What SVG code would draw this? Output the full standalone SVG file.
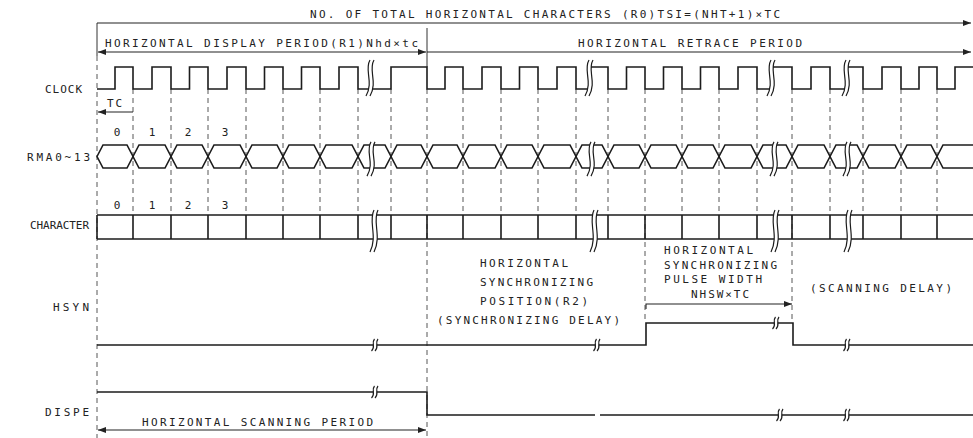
<svg xmlns="http://www.w3.org/2000/svg" xmlns:xlink="http://www.w3.org/1999/xlink" width="973" height="438" viewBox="0 0 973 438">
<style>
.t{font-family:"DejaVu Sans Mono","Liberation Mono",monospace;font-size:11px;fill:#222}
.sig{fill:none;stroke:#1c1c1c;stroke-width:1.6;stroke-linejoin:miter}
.dash{fill:none;stroke:#444;stroke-width:0.9;stroke-dasharray:5 4}
.solid{fill:none;stroke:#333;stroke-width:1}
.arr{fill:none;stroke:#222;stroke-width:1.1}
.bk{fill:none;stroke:#1c1c1c;stroke-width:1.2;vector-effect:non-scaling-stroke}
.bw{fill:#fff;stroke:none}
</style>
<defs>
<marker id="ah" markerWidth="9" markerHeight="6" refX="8" refY="3" orient="auto-start-reverse" markerUnits="userSpaceOnUse">
<path d="M0,0 L8,3 L0,6 z" fill="#222"/>
</marker>
<g id="brk">
<path class="bw" d="M1,-18 C-5,-8 5,4 -3,18 L1,18 C9,4 -1,-8 5,-18 Z"/>
<path class="bk" d="M1,-18 C-5,-8 5,4 -3,18"/>
<path class="bk" d="M5,-18 C-1,-8 9,4 1,18"/>
</g>
<g id="brks">
<path class="bw" d="M1.5,-6 C-2,-2 3,2 -1.5,6 L2,6 C6.5,2 1.5,-2 5,-6 Z"/>
<path class="bk" d="M1.5,-6 C-2,-2 3,2 -1.5,6"/>
<path class="bk" d="M5,-6 C1.5,-2 6.5,2 2,6"/>
</g>
</defs>
<rect width="973" height="438" fill="#fff"/>

<g id="guides">
<path class="solid" d="M97,23 V56 M427,28 V67"/>
<path class="dash" d="M97,56 V438 M427,89 V438 M645,89 V323 M792,89 V323"/>
<path class="dash" d="M133,89 V215 M171,89 V215 M208,89 V215 M246,89 V215 M283,89 V215 M320,89 V215 M358,89 V215 M391,89 V215 M463,89 V215 M501,89 V215 M538,89 V215 M576,89 V215 M608,89 V215 M682,89 V215 M719,89 V215 M757,89 V215 M830,89 V215 M863,89 V215 M901,89 V215 M937,89 V215"/>
</g>

<g id="dimensions">
<path class="arr" d="M97,23 H971" marker-end="url(#ah)"/>
<path class="arr" d="M98,52 H426" marker-start="url(#ah)" marker-end="url(#ah)"/>
<path class="arr" d="M427,52 H971" marker-end="url(#ah)"/>
<path class="arr" d="M98,112 H133" marker-start="url(#ah)"/>
<path class="arr" d="M646,309 V304 H792" marker-end="url(#ah)"/>
<path class="arr" d="M98,430 H426" marker-start="url(#ah)" marker-end="url(#ah)"/>
</g>

<g id="labels">
<text class="t" x="310" y="18" textLength="470" lengthAdjust="spacing">NO. OF TOTAL HORIZONTAL CHARACTERS (R0)TSI=(NHT+1)×TC</text>
<text class="t" x="105" y="47" textLength="313" lengthAdjust="spacing">HORIZONTAL DISPLAY PERIOD(R1)Nhd×tc</text>
<text class="t" x="578" y="47" textLength="224" lengthAdjust="spacing">HORIZONTAL RETRACE PERIOD</text>
<text class="t" x="45" y="93" textLength="37" lengthAdjust="spacing">CLOCK</text>
<text class="t" x="107" y="107" textLength="15" lengthAdjust="spacing">TC</text>
<text class="t" x="27" y="161" textLength="63" lengthAdjust="spacing">RMA0~13</text>
<text class="t" x="30" y="229" textLength="59" lengthAdjust="spacing">CHARACTER</text>
<text class="t" x="53" y="311" textLength="36" lengthAdjust="spacing">HSYN</text>
<text class="t" x="45" y="416" textLength="44" lengthAdjust="spacing">DISPE</text>
<g text-anchor="middle">
<text class="t" x="117" y="136">0</text><text class="t" x="152" y="136">1</text><text class="t" x="188" y="136">2</text><text class="t" x="225" y="136">3</text>
<text class="t" x="117" y="209">0</text><text class="t" x="152" y="209">1</text><text class="t" x="188" y="209">2</text><text class="t" x="225" y="209">3</text>
</g>
<text class="t" x="480" y="267" textLength="88" lengthAdjust="spacing">HORIZONTAL</text>
<text class="t" x="480" y="286" textLength="113" lengthAdjust="spacing">SYNCHRONIZING</text>
<text class="t" x="480" y="305" textLength="108" lengthAdjust="spacing">POSITION(R2)</text>
<text class="t" x="437" y="324" textLength="183" lengthAdjust="spacing">(SYNCHRONIZING DELAY)</text>
<text class="t" x="664" y="254" textLength="89" lengthAdjust="spacing">HORIZONTAL</text>
<text class="t" x="664" y="269" textLength="113" lengthAdjust="spacing">SYNCHRONIZING</text>
<text class="t" x="664" y="283" textLength="98" lengthAdjust="spacing">PULSE WIDTH</text>
<text class="t" x="691" y="298" textLength="58" lengthAdjust="spacing">NHSW×TC</text>
<text class="t" x="810" y="292" textLength="142" lengthAdjust="spacing">(SCANNING DELAY)</text>
<text class="t" x="142" y="426" textLength="231" lengthAdjust="spacing">HORIZONTAL SCANNING PERIOD</text>
</g>

<g id="clock">
<path class="sig" d="M97,89 H115 V67 H133 V89 H152 V67 H171 V89 H189.5 V67 H208 V89 H227 V67 H246 V89 H264.5 V67 H283 V89 H301.5 V67 H320 V89 H339 V67 H358 V89 H391 V67 H427 V89 H445 V67 H463 V89 H482 V67 H501 V89 H519.5 V67 H538 V89 H557 V67 H576 V89 H590 V67 H608 V89 H626.5 V67 H645 V89 H663.5 V67 H682 V89 H700.5 V67 H719 V89 H738 V67 H757 V89 H772 V67 H792 V89 H811 V67 H830 V89 H847 V67 H863 V89 H882 V67 H901 V89 H919 V67 H937 V89 H955 V67 H973"/>
<use xlink:href="#brk" transform="translate(369,78)"/>
<use xlink:href="#brk" transform="translate(588,78)"/>
<use xlink:href="#brk" transform="translate(770,78)"/>
<use xlink:href="#brk" transform="translate(845,78)"/>
</g>

<g id="rma">
<polygon class="sig" points="97,156.5 103,145 127,145 133,156.5 127,168 103,168"/>
<polygon class="sig" points="133,156.5 139,145 165,145 171,156.5 165,168 139,168"/>
<polygon class="sig" points="171,156.5 177,145 202,145 208,156.5 202,168 177,168"/>
<polygon class="sig" points="208,156.5 214,145 240,145 246,156.5 240,168 214,168"/>
<polygon class="sig" points="246,156.5 252,145 277,145 283,156.5 277,168 252,168"/>
<polygon class="sig" points="283,156.5 289,145 314,145 320,156.5 314,168 289,168"/>
<polygon class="sig" points="320,156.5 326,145 352,145 358,156.5 352,168 326,168"/>
<polygon class="sig" points="358,156.5 364,145 385,145 391,156.5 385,168 364,168"/>
<polygon class="sig" points="391,156.5 397,145 421,145 427,156.5 421,168 397,168"/>
<polygon class="sig" points="427,156.5 433,145 457,145 463,156.5 457,168 433,168"/>
<polygon class="sig" points="463,156.5 469,145 495,145 501,156.5 495,168 469,168"/>
<polygon class="sig" points="501,156.5 507,145 532,145 538,156.5 532,168 507,168"/>
<polygon class="sig" points="538,156.5 544,145 570,145 576,156.5 570,168 544,168"/>
<polygon class="sig" points="576,156.5 582,145 602,145 608,156.5 602,168 582,168"/>
<polygon class="sig" points="608,156.5 614,145 639,145 645,156.5 639,168 614,168"/>
<polygon class="sig" points="645,156.5 651,145 676,145 682,156.5 676,168 651,168"/>
<polygon class="sig" points="682,156.5 688,145 713,145 719,156.5 713,168 688,168"/>
<polygon class="sig" points="719,156.5 725,145 751,145 757,156.5 751,168 725,168"/>
<polygon class="sig" points="757,156.5 763,145 786,145 792,156.5 786,168 763,168"/>
<polygon class="sig" points="792,156.5 798,145 824,145 830,156.5 824,168 798,168"/>
<polygon class="sig" points="830,156.5 836,145 857,145 863,156.5 857,168 836,168"/>
<polygon class="sig" points="863,156.5 869,145 895,145 901,156.5 895,168 869,168"/>
<polygon class="sig" points="901,156.5 907,145 931,145 937,156.5 931,168 907,168"/>
<path class="sig" d="M937,156.5 L943,145 H974 M937,156.5 L943,168 H974"/>
<use xlink:href="#brk" transform="translate(370,159) scale(1,0.95)"/>
<use xlink:href="#brk" transform="translate(590,159) scale(1,0.95)"/>
<use xlink:href="#brk" transform="translate(773,159) scale(1,0.95)"/>
<use xlink:href="#brk" transform="translate(846,159) scale(1,0.95)"/>
</g>

<g id="character">
<path class="sig" d="M97,215 H974 M97,239 H974"/>
<path class="sig" d="M97,215 V239 M133,215 V239 M171,215 V239 M208,215 V239 M246,215 V239 M283,215 V239 M320,215 V239 M358,215 V239 M391,215 V239 M427,215 V239 M463,215 V239 M501,215 V239 M538,215 V239 M576,215 V239 M608,215 V239 M645,215 V239 M682,215 V239 M719,215 V239 M757,215 V239 M792,215 V239 M830,215 V239 M863,215 V239 M901,215 V239 M937,215 V239"/>
<use xlink:href="#brk" transform="translate(373,231) scale(1,1.17)"/>
<use xlink:href="#brk" transform="translate(593,231) scale(1,1.17)"/>
<use xlink:href="#brk" transform="translate(774,231) scale(1,1.17)"/>
<use xlink:href="#brk" transform="translate(847,231) scale(1,1.17)"/>
</g>

<g id="hsyn">
<path class="sig" d="M97,345 H646 V323 H793 V345 H973"/>
<use xlink:href="#brks" transform="translate(373,345)"/>
<use xlink:href="#brks" transform="translate(595,345)"/>
<use xlink:href="#brks" transform="translate(774,323)"/>
<use xlink:href="#brks" transform="translate(845,345)"/>
</g>

<g id="dispe">
<path class="sig" d="M97,392 H427 V415 H595 M600,415 H973"/>
<use xlink:href="#brks" transform="translate(373,392)"/>
<use xlink:href="#brks" transform="translate(778,415)"/>
<use xlink:href="#brks" transform="translate(845,415)"/>
</g>
</svg>
